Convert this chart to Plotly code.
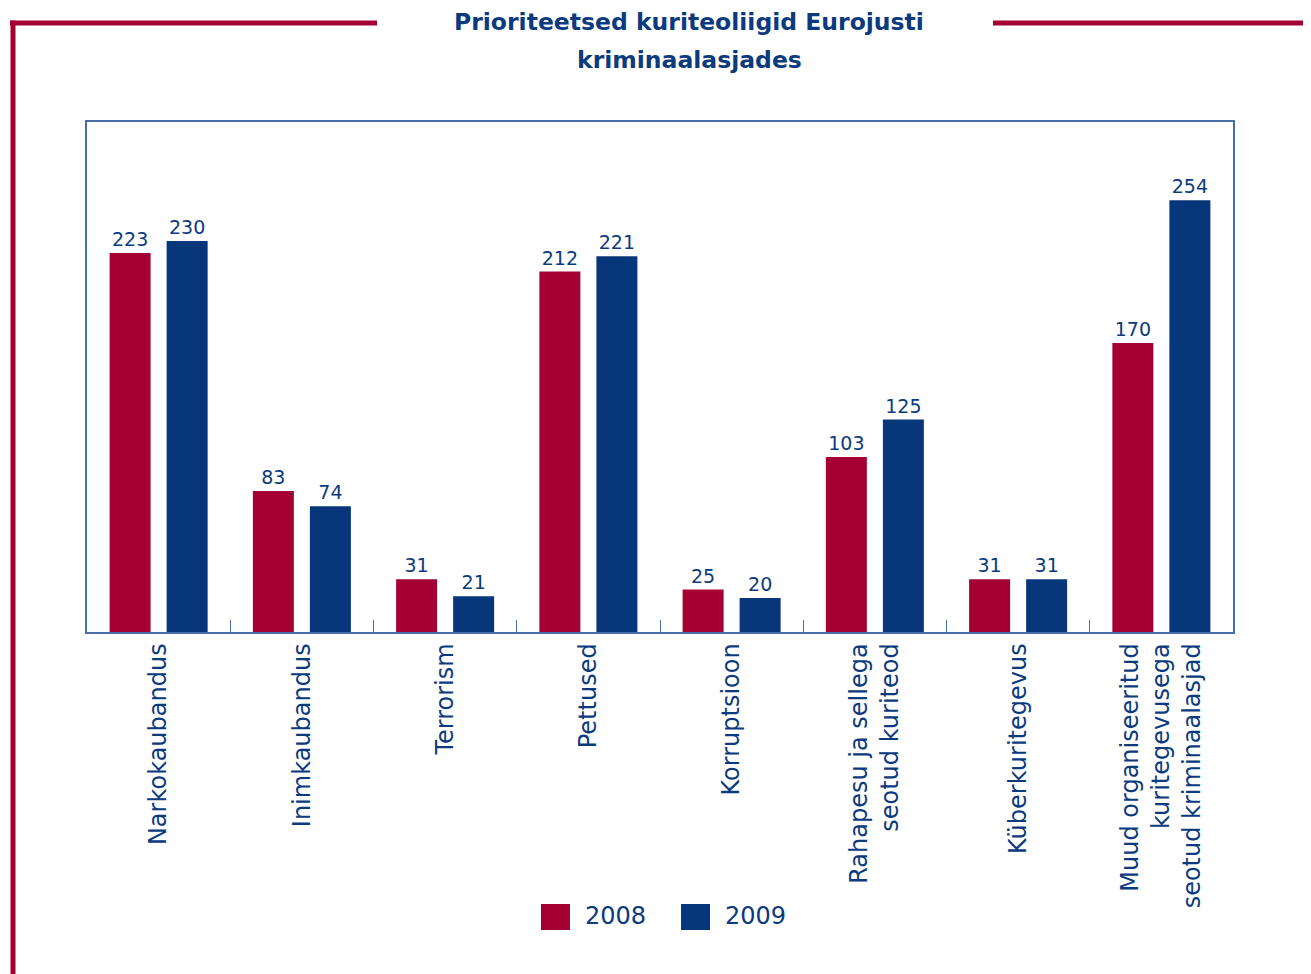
import plotly.graph_objects as go

# -- data --
categories = [
    "Narkokaubandus",
    "Inimkaubandus",
    "Terrorism",
    "Pettused",
    "Korruptsioon",
    "Rahapesu ja sellega<br>seotud kuriteod",
    "Küberkuritegevus",
    "Muud organiseeritud<br>kuritegevusega<br>seotud kriminaalasjad",
]
values_2008 = [223, 83, 31, 212, 25, 103, 31, 170]
values_2009 = [230, 74, 21, 221, 20, 125, 31, 254]
series_names = ["2008", "2009"]

RED = "#a50034"
BLUE = "#07367a"
TEXT = "#0b3a7e"
FRAME = "#4a6ea8"
FONT = "Verdana, DejaVu Sans, sans-serif"

W, H = 1311, 974
OFF = 8  # page body margin
L, T = 87 - OFF, 122 - OFF
PW, PH = 1146, 510
R, B = W - L - PW, H - T - PH


def xp(px):
    # page pixel -> paper fraction
    return (px - OFF - L) / PW


def yp(py):
    return (T + PH - (py - OFF)) / PH


fig = go.Figure()
for name, vals, color in zip(series_names, [values_2008, values_2009], [RED, BLUE]):
    fig.add_trace(go.Bar(
        x=categories, y=vals, name=name,
        marker=dict(color=color, line_width=0),
        text=vals, textposition="outside",
        textfont=dict(size=19, color=TEXT, family=FONT),
        cliponaxis=False, showlegend=False,
    ))

shapes = []
# red outer frame
for x0, x1 in [(10, 377), (993, 1330)]:
    shapes.append(dict(type="line", xref="paper", yref="paper",
                       x0=xp(x0), x1=xp(x1), y0=yp(23), y1=yp(23),
                       line=dict(color=RED, width=5)))
shapes.append(dict(type="line", xref="paper", yref="paper",
                   x0=xp(13), x1=xp(13), y0=yp(20.5), y1=yp(1000),
                   line=dict(color=RED, width=5)))

# custom legend
annotations = []
for i, (name, color) in enumerate(zip(series_names, [RED, BLUE])):
    sx = 541 + i * 140
    shapes.append(dict(type="rect", xref="paper", yref="paper",
                       x0=xp(sx), x1=xp(sx + 29), y0=yp(930), y1=yp(904),
                       fillcolor=color, line_width=0))
    annotations.append(dict(text=name, xref="paper", yref="paper",
                            x=xp(sx + 42), y=yp(916), xanchor="left", yanchor="middle",
                            showarrow=False, font=dict(size=24, color=TEXT, family=FONT)))

# title, two lines
for txt, py in [("Prioriteetsed kuriteoliigid Eurojusti", 22), ("kriminaalasjades", 60)]:
    annotations.append(dict(text="<b>" + txt + "</b>", xref="paper", yref="paper",
                            x=xp(689), y=yp(py), xanchor="center", yanchor="middle",
                            showarrow=False, font=dict(size=23.5, color=TEXT, family=FONT)))

fig.update_layout(
    width=W, height=H,
    margin=dict(l=L, r=R, t=T, b=B, autoexpand=False),
    paper_bgcolor="white", plot_bgcolor="white",
    barmode="group", bargap=0.204, bargroupgap=0.281,
    shapes=shapes, annotations=annotations,
    font=dict(family=FONT, color=TEXT),
)
fig.update_xaxes(
    showline=True, linecolor=FRAME, linewidth=1.5, mirror=True,
    ticks="inside", tickson="boundaries", ticklen=12, tickcolor=FRAME,
    tickangle=-90, tickfont=dict(size=24, color=TEXT, family=FONT),
    ticklabelstandoff=0,
)
fig.update_yaxes(
    range=[0, 300], showline=True, linecolor=FRAME, linewidth=1.5, mirror=True,
    showgrid=False, showticklabels=False, ticks="", zeroline=False,
)

fig.write_html("out.html")
